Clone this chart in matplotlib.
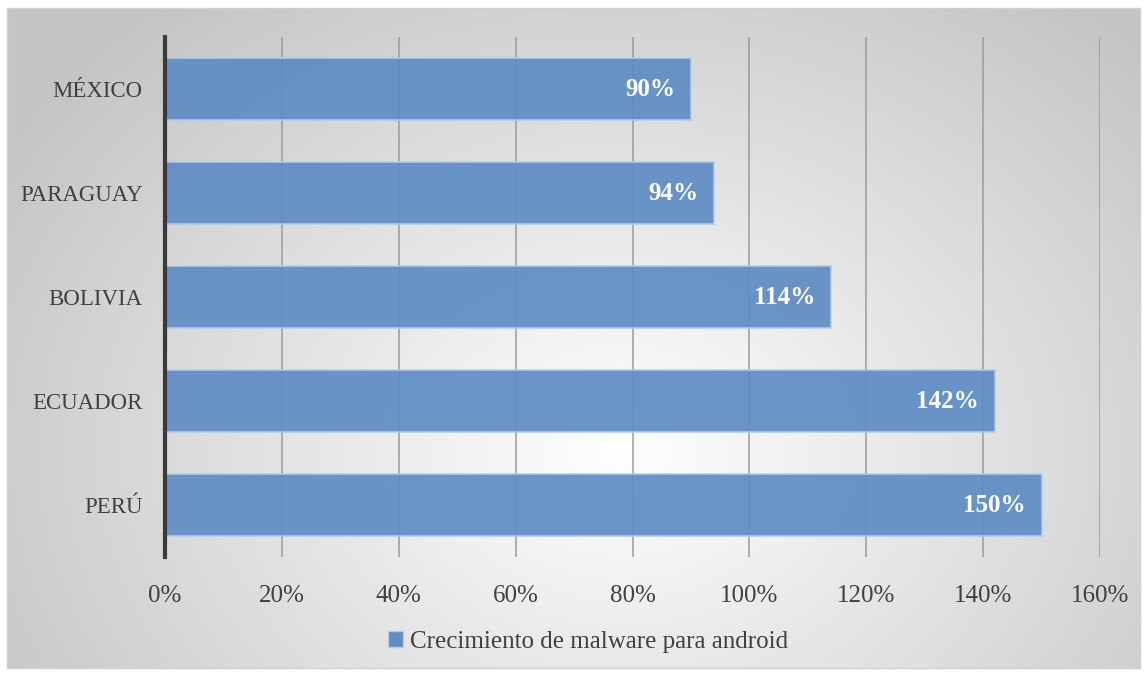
import numpy as np
import matplotlib.pyplot as plt
from matplotlib.patches import Rectangle, Patch

countries = ["MÉXICO", "PARAGUAY", "BOLIVIA", "ECUADOR", "PERÚ"]
growth = [90, 94, 114, 142, 150]
xticks = [0, 20, 40, 60, 80, 100, 120, 140, 160]
series_name = "Crecimiento de malware para android"

plt.rcParams["font.family"] = ["Liberation Serif", "DejaVu Serif"]

W, H = 1147, 674
fig = plt.figure(figsize=(W / 100, H / 100), dpi=100)

# radial gradient background inside the chart border, white outside
bg = fig.add_axes([0, 0, 1, 1])
yy, xx = np.mgrid[0:H, 0:W]
r = np.sqrt(((xx - 620) / 760) ** 2 + ((yy - 450) / 600) ** 2)
shade = np.clip(1 - 0.24 * r, 0.77, 1)
inside = (xx >= 7) & (xx <= 1140) & (yy >= 8) & (yy <= 668)
shade = np.where(inside, shade, 1.0)
bg.imshow(np.dstack([shade] * 3), extent=[0, W, H, 0], aspect="auto")
bg.set_xlim(0, W)
bg.set_ylim(H, 0)
bg.axis("off")
bg.add_patch(Rectangle((7, 8), 1133, 660, fill=False, ec="#cfcfcf", lw=1))

ax = fig.add_axes([165 / W, 1 - 557 / H, (1100 - 165) / W, (557 - 37) / H])
ax.set_facecolor("none")
ypos = np.arange(len(countries))
ax.barh(ypos, growth, height=0.6, color="#5f8dc5", alpha=0.93,
        edgecolor="#b5cbe6", linewidth=1.2, zorder=3)
for y, v in zip(ypos, growth):
    ax.text(v - 2.7, y, f"{v}%", ha="right", va="center", color="white",
            fontsize=18, fontweight="bold", zorder=4)

ax.set_xlim(0, 160)
ax.set_ylim(len(countries) - 0.5, -0.5)
ax.set_yticks(ypos)
ax.set_yticklabels(countries, fontsize=16.5, color="#404040")
ax.set_xticks(xticks)
ax.set_xticklabels([f"{t}%" for t in xticks], fontsize=18, color="#404040")
ax.tick_params(axis="both", length=0)
ax.tick_params(axis="y", pad=16)
ax.tick_params(axis="x", pad=20)
ax.grid(axis="x", color="#9a9a9a", linewidth=1.1, zorder=1)
for s in ["top", "right", "bottom"]:
    ax.spines[s].set_visible(False)
ax.spines["left"].set_color("#3a3a3a")
ax.spines["left"].set_linewidth(3)
ax.spines["left"].set_zorder(5)

fig.legend(handles=[Patch(facecolor="#5f8dc5", edgecolor="#b5cbe6")],
           labels=[series_name], loc="center", bbox_to_anchor=(588 / W, 1 - 642 / H),
           frameon=False, fontsize=18, handlelength=0.6, handleheight=0.6,
           handletextpad=0.3, labelcolor="#404040")

fig.savefig("out.png", dpi=100)
